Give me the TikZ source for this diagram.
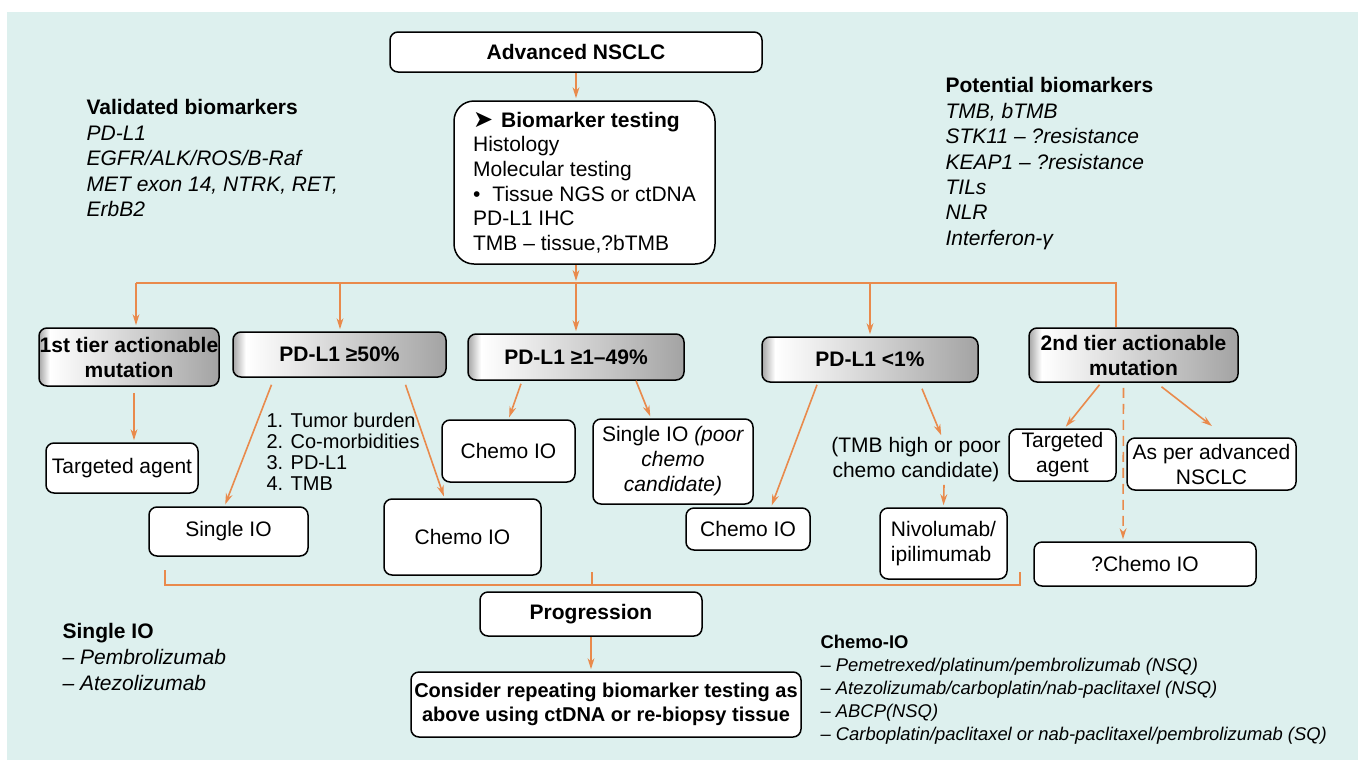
\documentclass[tikz,border=0pt]{standalone}
\usepackage{fontspec}
\setmainfont{Liberation Sans}
\newfontfamily\symfont{DejaVu Sans}
\usetikzlibrary{arrows.meta}
\definecolor{bgteal}{HTML}{DDF0EE}
\definecolor{linkc}{HTML}{E98A4C}
\pgfdeclarehorizontalshading{tiershade}{100bp}{color(0bp)=(gray!70); color(25bp)=(gray!70); color(28bp)=(white); color(75bp)=(gray!72); color(100bp)=(gray!72)}

\begin{document}
\begin{tikzpicture}[->,>={Stealth[length=5.5pt,width=3.4pt]},shorten >=1pt,x=0.5pt,y=-0.5pt,semithick]
\tikzstyle{every node}=[font=\fontsize{10.5}{12.5}\selectfont,text=black]
\tikzstyle{every edge}=[draw=linkc,line width=0.8pt]
\tikzstyle{box}=[shape=rectangle,draw=black,fill=white,rounded corners=4pt,line width=0.75pt,align=center,inner sep=1pt]
\tikzstyle{tier}=[box,shade,shading=tiershade,font=\fontsize{10.5}{12.5}\selectfont\bfseries]
\tikzstyle{note}=[anchor=north west,inner sep=0pt,align=left]
\tikzstyle{bus}=[-,shorten >=0pt,draw=linkc,line width=0.8pt]

\fill[-,white] (0,0) rectangle (1358,760);
\fill[-,bgteal] (7,12) rectangle (1358,760);
\path[-,use as bounding box] (0,0) rectangle (1358,760);

\node[box,minimum width=186pt,minimum height=20pt,font=\fontsize{10.5}{12.5}\selectfont\bfseries] (adv) at (576,52) {Advanced NSCLC};
\node[box,rounded corners=10pt,minimum width=130.5pt,minimum height=81.5pt,align=left,font=\fontsize{10.5}{12.3}\selectfont] (bio) at (584.5,182.5) {{\symfont\fontsize{12}{10}\selectfont ➤}\hspace{4pt}\textbf{Biomarker testing}\\Histology\\Molecular testing\\•\hspace{6pt}Tissue NGS or ctDNA\\PD-L1 IHC\\TMB – tissue,?bTMB};

\node[note,font=\fontsize{10.5}{12.75}\selectfont] (valid) at (86,99) {\textbf{Validated biomarkers}\\\textit{PD-L1}\\\textit{EGFR/ALK/ROS/B-Raf}\\\textit{MET exon 14, NTRK, RET,}\\\textit{ErbB2}};
\node[note,font=\fontsize{10.5}{12.7}\selectfont] (pot) at (945,77) {\textbf{Potential biomarkers}\\\textit{TMB, bTMB}\\\textit{STK11 – ?resistance}\\\textit{KEAP1 – ?resistance}\\\textit{TILs}\\\textit{NLR}\\\textit{Interferon-γ}};

\node[tier,minimum width=90pt,minimum height=29pt,inner xsep=0pt] (t1) at (129,357) {1st tier actionable\\mutation};
\node[tier,minimum width=106.5pt,minimum height=22.5pt] (p50) at (339.5,354.5) {PD-L1 ≥50\%};
\node[tier,minimum width=108pt,minimum height=23pt] (p149) at (576,357) {PD-L1 ≥1–49\%};
\node[tier,minimum width=108pt,minimum height=22.5pt] (p1) at (870,359.5) {PD-L1 <1\%};
\node[tier,minimum width=104.5pt,minimum height=27pt] (t2) at (1133.5,355) {2nd tier actionable\\mutation};

\node[box,minimum width=76pt,minimum height=25pt] (ta1) at (122,468) {Targeted agent};
\node[box,minimum width=79.5pt,minimum height=24.5pt] (sio1) at (228.5,531.5) {Single IO};
\node[box,minimum width=78.5pt,minimum height=38pt] (cio1) at (462.5,537) {Chemo IO};
\node[note,font=\fontsize{10}{10.5}\selectfont] (crit) at (266,412) {1. Tumor burden\\2. Co-morbidities\\3. PD-L1\\4. TMB};
\node[box,minimum width=66.5pt,minimum height=31pt] (cio2) at (508.5,451) {Chemo IO};
\node[box,minimum width=80pt,minimum height=42.5pt] (sio2) at (673,461.5) {Single IO \textit{(poor}\\\textit{chemo}\\\textit{candidate)}};
\node[box,minimum width=62pt,minimum height=21pt] (cio3) at (748,529) {Chemo IO};
\node[align=center,inner sep=1pt] (tmb) at (916,460) {(TMB high or poor\\chemo candidate)};
\node[box,minimum width=63.5pt,minimum height=35.5pt,align=left] (nivo) at (943.5,543.5) {Nivolumab/\\ipilimumab};
\node[box,minimum width=53.5pt,minimum height=26pt] (ta2) at (1062.5,455) {Targeted\\agent};
\node[box,minimum width=84.5pt,minimum height=26pt] (asper) at (1211.5,464) {As per advanced\\NSCLC};
\node[box,minimum width=111pt,minimum height=22pt] (qcio) at (1145,564) {?Chemo IO};

\node[box,minimum width=111pt,minimum height=22pt,font=\fontsize{10.5}{12.5}\selectfont\bfseries] (prog) at (591,614) {Progression};
\node[box,minimum width=195pt,minimum height=32.5pt,inner xsep=0pt,font=\fontsize{10}{12}\selectfont\bfseries] (cons) at (606,704.5) {Consider repeating biomarker testing as\\above using ctDNA or re-biopsy tissue};

\node[note,font=\fontsize{10.5}{13}\selectfont] (siolist) at (62,623) {\textbf{Single IO}\\\textit{– Pembrolizumab}\\\textit{– Atezolizumab}};
\node[note,font=\fontsize{9.2}{11.4}\selectfont] (cilist) at (820,635) {\textbf{Chemo-IO}\\\textit{– Pemetrexed/platinum/pembrolizumab (NSQ)}\\\textit{– Atezolizumab/carboplatin/nab-paclitaxel (NSQ)}\\\textit{– ABCP(NSQ)}\\\textit{– Carboplatin/paclitaxel or nab-paclitaxel/pembrolizumab (SQ)}};

\coordinate (busL) at (136,283);
\coordinate (busR) at (1116,283);
\coordinate (busC) at (576,283);
\coordinate (bus50) at (340,283);
\coordinate (bus1) at (870,283);
\draw[bus] (busL) -- (busR) -- (busR |- t2.north);
\draw[bus] (165,570) -- (165,585) -- (1020,585) -- (1020,572);
\draw[bus] (592,572) -- (592,585);

\path (adv.south) edge (adv.south |- bio.north)
	(bio.south -| busC) edge (busC)
	(busL) edge (busL |- t1.north)
	(bus50) edge (bus50 |- p50.north)
	(busC) edge (p149.north)
	(bus1) edge (bus1 |- p1.north)
	([xshift=2.5pt,yshift=-3pt]t1.south) edge ([xshift=6pt]ta1.north)
	([xshift=-34pt,yshift=-3.5pt]p50.south) edge ([xshift=-2pt]sio1.north)
	([xshift=33pt,yshift=-3.5pt]p50.south) edge ([xshift=-9pt]cio1.north)
	([xshift=-27.5pt,yshift=-1.5pt]p149.south) edge (cio2.north)
	([xshift=30pt]p149.south) edge ([xshift=-11pt]sio2.north)
	([xshift=-26.5pt,yshift=-1pt]p1.south) edge ([xshift=11.5pt]cio3.north)
	([xshift=26pt,yshift=-3pt]p1.south) edge ([xshift=13pt,yshift=-1pt]tmb.north)
	([xshift=14pt]tmb.south) edge (nivo.north)
	([xshift=-17pt,yshift=-1pt]t2.south) edge ([xshift=1pt]ta2.north)
	([xshift=14pt,yshift=-2pt]t2.south) edge ([xshift=1pt,yshift=5pt]asper.north)
	([xshift=-5pt,yshift=-2.5pt]t2.south) edge[dash pattern=on 5pt off 3pt] ([xshift=-11pt]qcio.north)
	(prog) edge (prog.south |- cons.north);

\end{tikzpicture}
\end{document}
